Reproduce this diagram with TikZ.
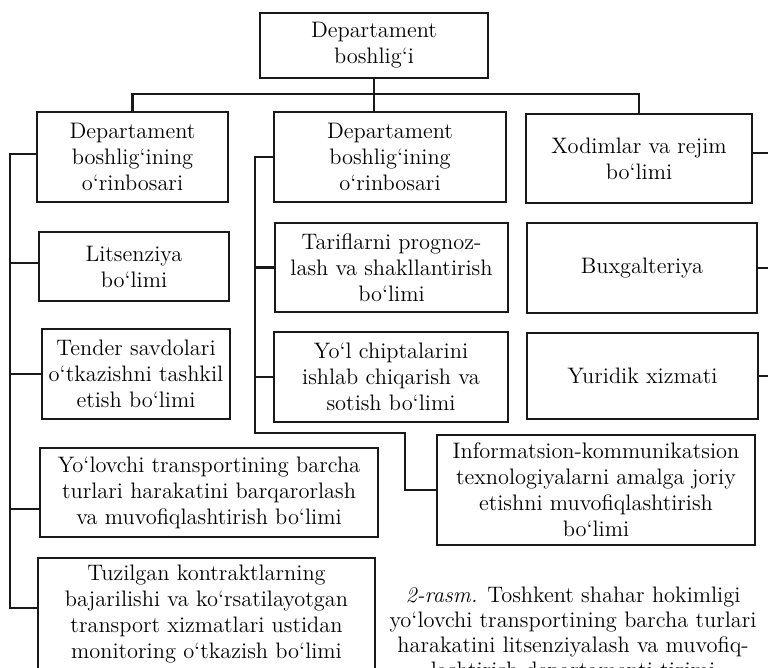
\documentclass[tikz,border=0pt]{standalone}

\begin{document}
\begin{tikzpicture}[
  x=0.5pt, y=-0.5pt,
  box/.style={draw=black!90, line width=1.3pt, align=center, inner sep=2pt,
              font=\fontsize{11.2}{13}\selectfont},
  link/.style={draw=black!90, line width=1.2pt}
]
\useasboundingbox (0,0) rectangle (768,668);
\clip (0,0) rectangle (768,668);

\node[box, minimum width=114pt, minimum height=32.5pt] (head) at (374,45.5) {Departament\\boshlig‘i};

\node[box, minimum width=95.5pt, minimum height=45pt] (depA) at (132.5,157) {Departament\\boshlig‘ining\\o‘rinbosari};
\node[box, minimum width=116pt, minimum height=45pt] (depB) at (390,157) {Departament\\boshlig‘ining\\o‘rinbosari};
\node[box, minimum width=113pt, minimum height=44.5pt] (staff) at (639,158.5) {Xodimlar va rejim\\bo‘limi};

\node[box, minimum width=95pt, minimum height=34.5pt] (licence) at (134,266.5) {Litsenziya\\bo‘limi};
\node[box, minimum width=94pt, minimum height=45pt] (tender) at (136,374) {Tender savdolari\\o‘tkazishni tashkil\\etish bo‘limi};
\node[box, minimum width=169pt, minimum height=44.5pt] (transit) at (209,492.5) {Yo‘lovchi transportining barcha\\turlari harakatini barqarorlash\\va muvofiqlashtirish bo‘limi};
\node[box, minimum width=168.5pt, minimum height=56pt] (monitor) at (206.5,614) {Tuzilgan kontraktlarning\\bajarilishi va ko‘rsatilayotgan\\transport xizmatlari ustidan\\monitoring o‘tkazish bo‘limi};

\node[box, minimum width=116.5pt, minimum height=44.5pt] (tariff) at (391.5,267.5) {Tariflarni prognoz-\\lash va shakllantirish\\bo‘limi};
\node[box, minimum width=117pt, minimum height=45pt] (ticket) at (391,377) {Yo‘l chiptalarini\\ishlab chiqarish va\\sotish bo‘limi};
\node[box, minimum width=159pt, minimum height=55pt] (ict) at (596,490) {Informatsion-kommunikatsion\\texnologiyalarni amalga joriy\\etishni muvofiqlashtirish\\bo‘limi};

\node[box, minimum width=115pt, minimum height=45pt] (account) at (642,268) {Buxgalteriya};
\node[box, minimum width=115.5pt, minimum height=43pt] (legal) at (642.5,376) {Yuridik xizmati};

\node[font=\fontsize{11.2}{12.5}\selectfont, align=center, anchor=north, inner sep=0pt] (caption) at (573,587)
  {\textit{2-rasm.} Toshkent shahar hokimligi\\yo‘lovchi transportining barcha turlari\\harakatini litsenziyalash va muvofiq-\\lashtirish departamenti tizimi};

\coordinate (bus) at (374,94);
\coordinate (lbus) at (10,0);
\coordinate (mbus) at (255,433);
\coordinate (mturn) at (405,433);
\coordinate (rbus) at (780,0);

\draw[link] (head.south) -- (head.south |- depB.north);
\draw[link] (depA.north) |- (bus) -| (staff.north);

\draw[link] ([yshift=1.5pt]depA.west) -| ([yshift=3pt]lbus |- monitor.west) -- ([yshift=3pt]monitor.west);
\draw[link] ([yshift=1.75pt]licence.west) -- ([yshift=1.75pt]licence.west -| lbus);
\draw[link] (tender.west) -- (tender.west -| lbus);
\draw[link] ([yshift=-8.25pt]transit.west) -- ([yshift=-8.25pt]transit.west -| lbus);

\draw[link] (depB.west) -| (mbus) -- (mturn) |- (ict.west);
\draw[link] (tariff.west) -- (tariff.west -| mbus);
\draw[link] (ticket.west) -- (ticket.west -| mbus);

\draw[link] ([yshift=2.75pt]staff.east) -- ([yshift=2.75pt]staff.east -| rbus);
\draw[link] (account.east) -- (account.east -| rbus);
\draw[link] (legal.east) -- (legal.east -| rbus);
\end{tikzpicture}
\end{document}
